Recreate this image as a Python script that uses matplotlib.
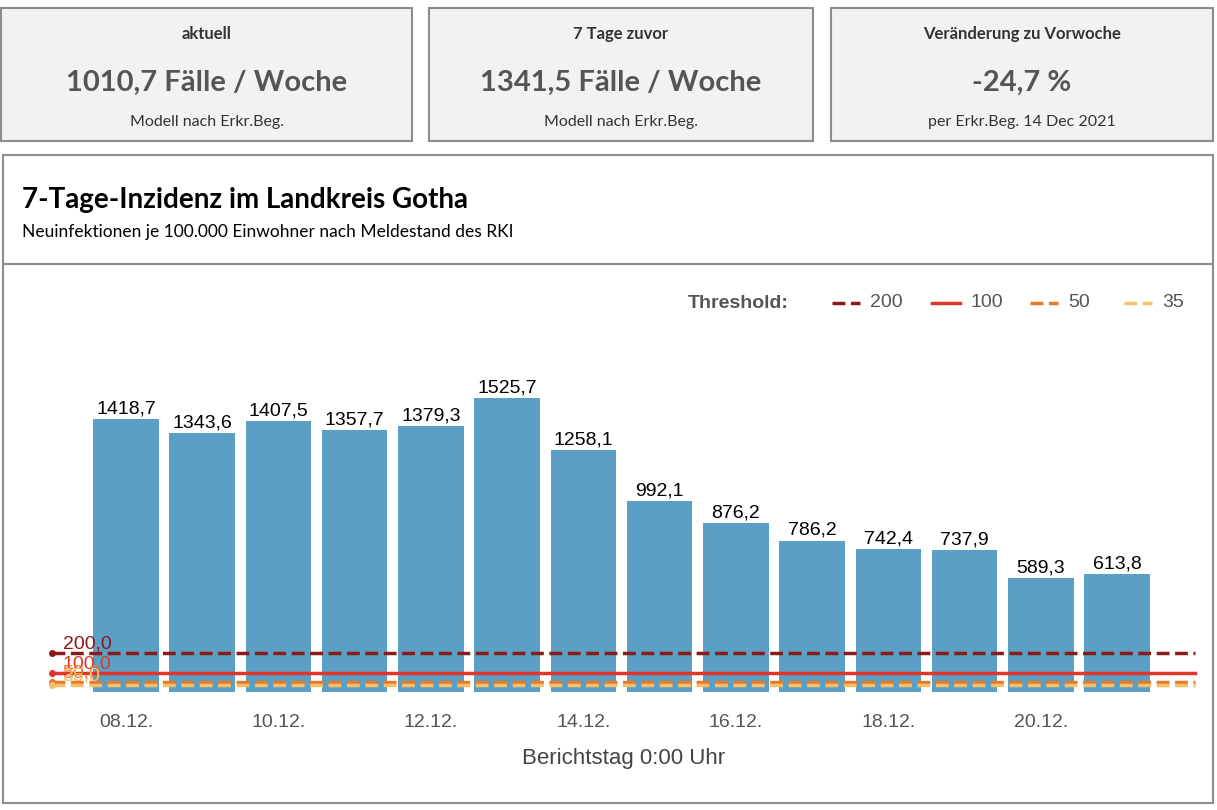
import matplotlib
matplotlib.use("Agg")
import matplotlib.pyplot as plt
from matplotlib.patches import Rectangle
from matplotlib.lines import Line2D

dates = ["08.12.","09.12.","10.12.","11.12.","12.12.","13.12.","14.12.","15.12.","16.12.","17.12.","18.12.","19.12.","20.12.","21.12."]
values = [1418.7,1343.6,1407.5,1357.7,1379.3,1525.7,1258.1,992.1,876.2,786.2,742.4,737.9,589.3,613.8]
thresholds = [200, 100, 50, 35]
th_colors = ["#8b1a1a", "#e0352b", "#e8782a", "#f5c06a"]
th_styles = ["--", "-", "--", "--"]
cards = [("aktuell", "1010,7 Fälle / Woche", "Modell nach Erkr.Beg."),
         ("7 Tage zuvor", "1341,5 Fälle / Woche", "Modell nach Erkr.Beg."),
         ("Veränderung zu Vorwoche", "-24,7 %", "per Erkr.Beg. 14 Dec 2021")]

W, H = 1217, 810
fig = plt.figure(figsize=(W/100, H/100), dpi=100)
fig.patch.set_facecolor("white")
def fx(x): return x / W
def fy(y): return 1 - y / H

# cards
for (t, big, sub), (x0, x1) in zip(cards, [(1, 412), (429, 813), (831, 1213)]):
    fig.patches.append(Rectangle((fx(x0), fy(141)), fx(x1 - x0), (133) / H, transform=fig.transFigure,
                                 facecolor="#f2f2f2", edgecolor="#8c8c8c", lw=1.5))
    cx = fx((x0 + x1) / 2)
    fig.text(cx, fy(34), t, ha="center", va="center", fontsize=12, fontweight="bold", family="Lato", color="#333333")
    fig.text(cx, fy(83), big, ha="center", va="center", fontsize=21, fontweight="bold", family="Lato", color="#555555")
    fig.text(cx, fy(122), sub, ha="center", va="center", fontsize=11.5, family="Lato", color="#333333")

# main panel
fig.patches.append(Rectangle((fx(3), fy(803)), fx(1210), 648 / H, transform=fig.transFigure,
                             facecolor="none", edgecolor="#8c8c8c", lw=1.5))
fig.lines.append(Line2D([fx(3), fx(1213)], [fy(264), fy(264)], transform=fig.transFigure, color="#8c8c8c", lw=1.5))
fig.text(fx(22), fy(200), "7-Tage-Inzidenz im Landkreis Gotha", ha="left", va="center",
         fontsize=20, fontweight="bold", family="Lato", color="black")
fig.text(fx(22), fy(232), "Neuinfektionen je 100.000 Einwohner nach Meldestand des RKI", ha="left", va="center",
         fontsize=12.5, family="Lato", color="black")

# axes
px_per = 294 / 1525.7
top_px = 330
ax = fig.add_axes([fx(52), fy(692), fx(1195 - 52), (692 - top_px) / H])
ax.patch.set_alpha(0)
ax.set_ylim(0, (692 - top_px) / px_per)
step = 76.2
ax.set_xlim((52 - 126) / step, 13 + (1195 - 1117) / step)
x = list(range(len(values)))
ax.bar(x, values, width=0.86, color="#5ba0c4", zorder=1)
for xi, v in zip(x, values):
    ax.text(xi, v + 8, f"{v:.1f}".replace(".", ","), ha="center", va="bottom",
            fontsize=14, family="Liberation Sans", color="black")
xl = ax.get_xlim()
for t, c, s in zip(thresholds, th_colors, th_styles):
    ax.plot([xl[0], xl[1]], [t, t], color=c, ls=s, lw=2.5, zorder=3, clip_on=False)
    ax.plot([xl[0]], [t], "o", color=c, ms=4, zorder=4, clip_on=False)
    ax.text(xl[0] + 0.14, t + 3, f"{t:.1f}".replace(".", ","), color=c, fontsize=14,
            family="Liberation Sans", ha="left", va="bottom", zorder=5)
for sp in ax.spines.values():
    sp.set_visible(False)
ax.set_yticks([])
ax.set_xticks(x[::2])
ax.set_xticklabels(dates[::2], fontsize=14, family="Liberation Sans", color="#555555")
ax.tick_params(axis="x", length=0, pad=16)
ax.set_xlabel("Berichtstag 0:00 Uhr", fontsize=16, family="Liberation Sans", color="#444444", labelpad=12)

# legend
fig.text(fx(688), fy(304), "Threshold:", fontsize=14, fontweight="bold", family="Liberation Sans",
         color="#555555", ha="left", va="center")
for (lx, t, c, s) in zip([832, 932, 1030, 1124], thresholds, th_colors, th_styles):
    fig.lines.append(Line2D([fx(lx), fx(lx + 28)], [fy(303), fy(303)], transform=fig.transFigure,
                            color=c, ls=s, lw=2.5))
    fig.text(fx(lx + 38), fy(302), str(t), fontsize=14, family="Liberation Sans", color="#555555",
             ha="left", va="center")

fig.savefig("out.png", dpi=100)
